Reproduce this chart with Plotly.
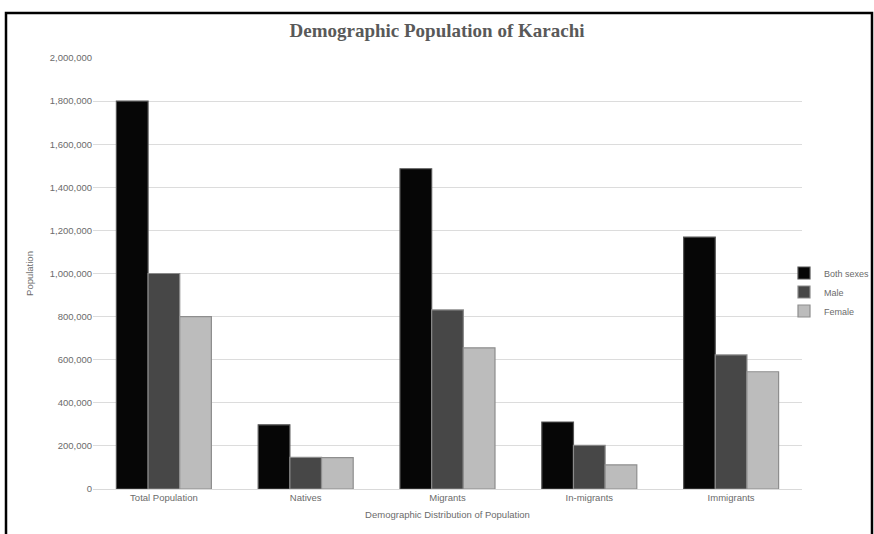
import plotly.graph_objects as go

categories = ["Total Population", "Natives", "Migrants", "In-migrants", "Immigrants"]
both_sexes = [1800000, 298000, 1486000, 311000, 1169000]
male = [1000000, 147000, 831000, 203000, 622000]
female = [800000, 146000, 655000, 112000, 544000]
y_ticks = list(range(0, 2000001, 200000))
y_tick_labels = [f"{v:,}" for v in y_ticks]

series = [
    ("Both sexes", both_sexes, "#060606", "#555555"),
    ("Male", male, "#474747", "#8a8a8a"),
    ("Female", female, "#bcbcbc", "#8e8e8e"),
]

fig = go.Figure()
for name, vals, color, edge in series:
    fig.add_trace(go.Bar(
        x=categories, y=vals, name=name,
        marker=dict(color=color, line=dict(color=edge, width=1.2)),
    ))

label_font = dict(family="Liberation Sans Narrow, Liberation Sans, Arial", size=9.5, color="#6b6b6b")

# plot area spans x 93..802 px and y 58..489 px
PW, PH = 709, 431

fig.update_layout(
    width=874, height=534,
    margin=dict(l=93, r=72, t=58, b=45, autoexpand=False),
    paper_bgcolor="white", plot_bgcolor="white",
    barmode="group", bargap=0.33, bargroupgap=0.0,
    title=dict(
        text="<b>Demographic Population of Karachi</b>",
        x=0.5, xanchor="center", y=1 - 30 / 534, yanchor="middle",
        font=dict(family="Liberation Serif, Times New Roman, serif", size=19, color="#595959"),
    ),
    font=label_font,
    legend=dict(
        x=(784 - 93) / PW, xanchor="left", y=(489 - 292) / PH, yanchor="middle",
        font=dict(family="Liberation Sans Narrow, Liberation Sans, Arial", size=9, color="#6b6b6b"),
        itemwidth=30, tracegroupgap=2, bgcolor="rgba(0,0,0,0)",
    ),
    xaxis=dict(
        title=dict(text="Demographic Distribution of Population", font=label_font, standoff=8),
        tickfont=label_font, showgrid=False,
        showline=True, linecolor="#d9d9d9", linewidth=1, ticks="",
    ),
    yaxis=dict(
        title=dict(text="Population", font=label_font, standoff=14),
        range=[0, 2000000], tickvals=y_ticks, ticktext=y_tick_labels,
        tickfont=label_font, showgrid=True, gridcolor="#dcdcdc", gridwidth=1,
        zeroline=False, ticks="", ticklen=0,
    ),
    shapes=[dict(
        type="rect", xref="paper", yref="paper",
        x0=(6 - 93) / PW, x1=(872 - 93) / PW, y0=-60 / PH, y1=(489 - 13) / PH,
        line=dict(color="black", width=2.5), fillcolor="rgba(0,0,0,0)", layer="above",
    )],
)

fig.write_html("out.html")
